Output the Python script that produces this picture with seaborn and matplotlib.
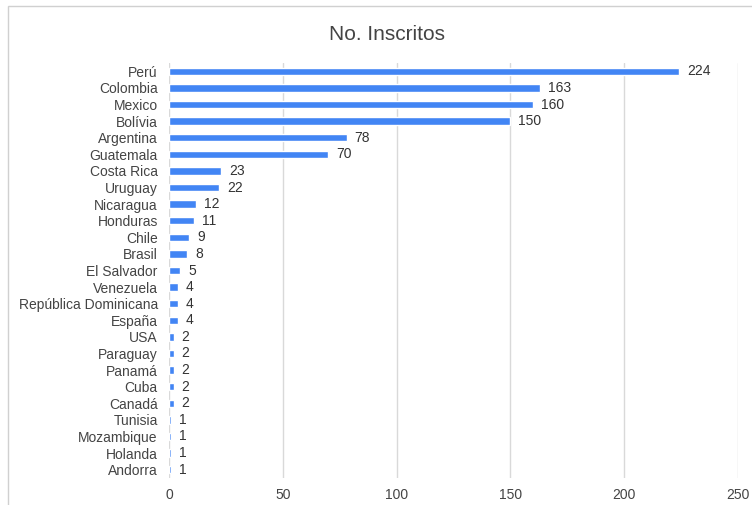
import pandas as pd
import seaborn as sns
import matplotlib.pyplot as plt
from matplotlib.patches import Rectangle

# Data
paises = ["Perú", "Colombia", "Mexico", "Bolívia", "Argentina", "Guatemala",
          "Costa Rica", "Uruguay", "Nicaragua", "Honduras", "Chile", "Brasil",
          "El Salvador", "Venezuela", "República Dominicana", "España", "USA",
          "Paraguay", "Panamá", "Cuba", "Canadá", "Tunisia", "Mozambique",
          "Holanda", "Andorra"]
inscritos = [224, 163, 160, 150, 78, 70, 23, 22, 12, 11, 9, 8, 5, 4, 4, 4,
             2, 2, 2, 2, 2, 1, 1, 1, 1]
ticks_x = [0, 50, 100, 150, 200, 250]

df = pd.DataFrame({"pais": paises, "inscritos": inscritos})

sns.set_style("white")
plt.rcParams["font.family"] = ["Liberation Sans", "DejaVu Sans"]

fig = plt.figure(figsize=(7.52, 5.05), dpi=100)
ax = fig.add_axes([0.2247, 0.0535, 0.7567, 0.8217])

sns.barplot(data=df, x="inscritos", y="pais", orient="h", color="#4285F4",
            width=0.45, saturation=1, ax=ax)

for i, v in enumerate(inscritos):
    ax.text(v + 3.5, i, str(v), va="center", ha="left", fontsize=10, color="#333333")

ax.set_xlim(0, 250)
ax.set_ylim(len(paises) - 0.5, -0.5)
ax.set_xticks(ticks_x)
ax.xaxis.grid(True, color="#d9d9d9", linewidth=1)
ax.set_axisbelow(True)
for s in ax.spines.values():
    s.set_visible(False)
ax.set_xlabel("")
ax.set_ylabel("")
ax.tick_params(axis="x", length=0, pad=7, labelsize=10, labelcolor="#444444")
ax.tick_params(axis="y", length=0, pad=8, labelsize=10, labelcolor="#444444")

fig.text(0.5145, 0.932, "No. Inscritos", ha="center", va="center",
         fontsize=15, color="#444444")

# light border of the chart area (cut off at right and bottom)
fig.patches.append(Rectangle((8 / 752, -0.1), 2, 1.1 - 6 / 505, transform=fig.transFigure,
                             fill=False, edgecolor="#d0d0d0", linewidth=1))

fig.savefig("out.png", dpi=100)
